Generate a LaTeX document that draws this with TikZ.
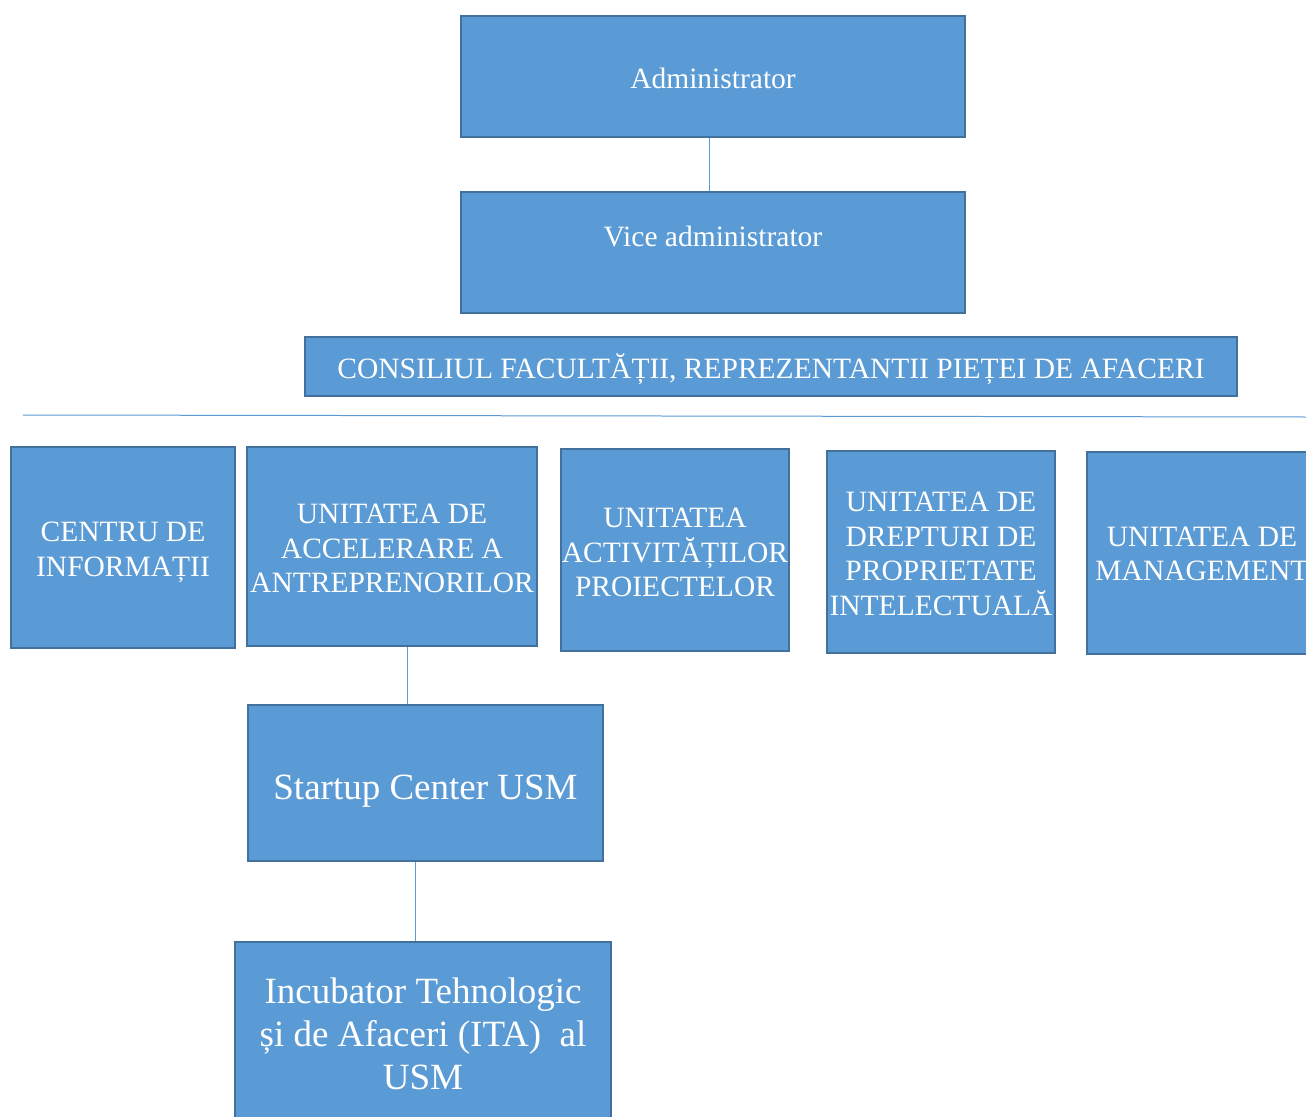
\documentclass[tikz,border=0pt]{standalone}
\usepackage{fontspec}
\setmainfont{Liberation Serif}
\definecolor{boxfill}{HTML}{5B9BD5}
\definecolor{boxline}{HTML}{41719C}
\definecolor{conn}{HTML}{5B9BD5}
\tikzset{
  orgbox/.style={draw=boxline, fill=boxfill, line width=2pt, inner sep=0pt},
  boxtext/.style={text=white, align=center, inner sep=0pt, font=\fontsize{29.5}{34.5}\selectfont},
  bigtext/.style={boxtext, font=\fontsize{37}{43}\selectfont},
  link/.style={draw=conn, line width=1pt}
}
\begin{document}
\begin{tikzpicture}[x=1pt,y=-1pt]
\useasboundingbox (0,0) rectangle (1306,1116);
\clip (0,0) rectangle (1306,1116);
% boxes
\node[orgbox, minimum width=504pt, minimum height=121pt] (admin) at (713,76.5) {};
\node[orgbox, minimum width=504pt, minimum height=121pt] (vice) at (713,252.5) {};
\node[orgbox, minimum width=932pt, minimum height=59pt] (cons) at (771,366.5) {};
\node[orgbox, minimum width=224pt, minimum height=201pt] (centru) at (123,547.5) {};
\node[orgbox, minimum width=290pt, minimum height=199pt] (accel) at (392,546.5) {};
\node[orgbox, minimum width=228pt, minimum height=202pt] (activ) at (675,550) {};
\node[orgbox, minimum width=228pt, minimum height=202pt] (drept) at (941,552) {};
\node[orgbox, minimum width=230pt, minimum height=202pt] (mgmt) at (1202,553) {};
\node[orgbox, minimum width=355pt, minimum height=156pt] (startup) at (425.5,783) {};
\node[orgbox, minimum width=376pt, minimum height=184pt] (incub) at (423,1034) {};
% texts
\node[boxtext] (admin-t) at ([yshift=-2pt]admin.center) {Administrator};
\node[boxtext] (vice-t) at ([yshift=-1pt]vice.center) {Vice administrator\\\mbox{}};
\node[boxtext] (cons-t) at ([yshift=-3pt]cons.center) {CONSILIUL FACULTĂȚII, REPREZENTANTII PIEȚEI DE AFACERI};
\node[boxtext] (centru-t) at ([yshift=-5pt]centru.center) {CENTRU DE\\INFORMAȚII};
\node[boxtext] (accel-t) at ([yshift=-2pt]accel.center) {UNITATEA DE\\ACCELERARE A\\ANTREPRENORILOR};
\node[boxtext] (activ-t) at ([yshift=-2.5pt]activ.center) {UNITATEA\\ACTIVITĂȚILOR\\PROIECTELOR};
\node[boxtext] (drept-t) at ([yshift=-2pt]drept.center) {UNITATEA DE\\DREPTURI DE\\PROPRIETATE\\INTELECTUALĂ};
\node[boxtext] (mgmt-t) at ([yshift=-1pt]mgmt.center) {UNITATEA DE\\MANAGEMENT};
\node[bigtext] (startup-t) at ([yshift=-8pt]startup.center) {Startup Center USM};
\node[bigtext] (incub-t) at (incub.center) {Incubator Tehnologic\\și de Afaceri (ITA)\ \ al\\USM};
% connectors
\coordinate (hl) at (23,415);
\coordinate (hr) at (1306,417);
\draw[link] (hl) -- (hr);
\draw[link] ([xshift=-4pt]admin.south) -- ([xshift=-4pt]vice.north);
\draw[link] ([xshift=15pt]accel.south) -- ([xshift=15pt]accel.south |- startup.north);
\draw[link] ([xshift=-10.5pt]startup.south) -- ([xshift=-10.5pt]startup.south |- incub.north);
\end{tikzpicture}
\end{document}
